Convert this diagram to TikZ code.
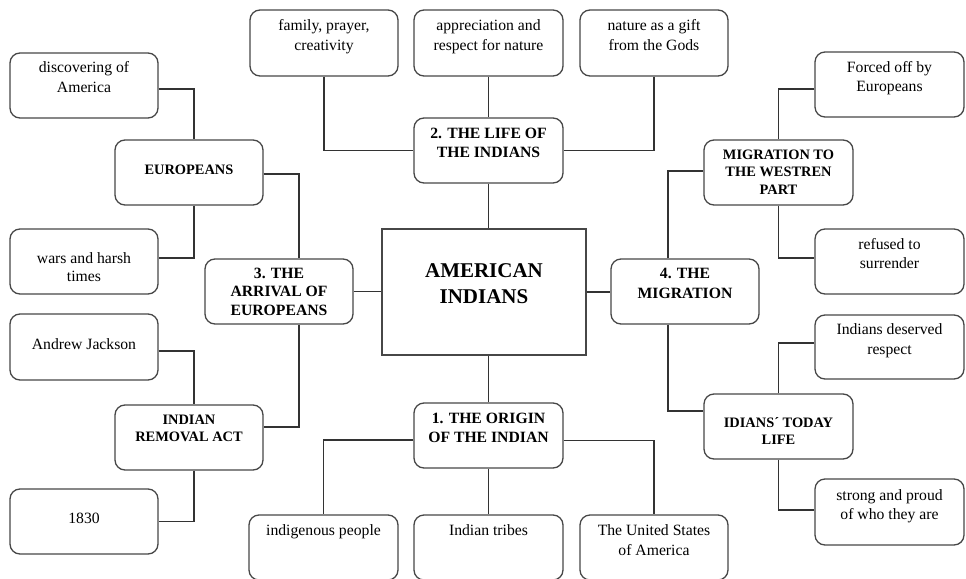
\documentclass[tikz,border=0pt]{standalone}
\usepackage{fontspec}
\setmainfont{Liberation Serif}
\usetikzlibrary{calc}
\newcommand\bxt[4]{\parbox[c][#1][t]{#2}{\centering\rule{0pt}{#3}#4\par}}
\tikzset{
  box/.style={draw=black!72, line width=1.3pt, rounded corners=10pt, inner sep=0pt, fill=white},
  cbox/.style={draw=black!72, line width=1.3pt, inner sep=0pt, fill=white},
  reg/.style={font=\fontsize{15.7}{20}\selectfont},
  subb/.style={font=\fontsize{14.4}{17.5}\selectfont\bfseries},
  mainb/.style={font=\fontsize{15.7}{19.5}\selectfont\bfseries},
  centf/.style={font=\fontsize{21}{26}\selectfont\bfseries},
  conn/.style={draw=black!80, line width=1.2pt}
}
\begin{document}
\begin{tikzpicture}[x=1pt,y=-1pt]
\useasboundingbox (0,0) rectangle (966,578);
\clip (0,0) rectangle (966,578);
\fill[white] (0,0) rectangle (966,578);

% top row
\node[box,reg] (fam) at (324,43) {\bxt{66pt}{148pt}{21pt}{family, prayer,\\creativity}};
\node[box,reg] (appr) at (488.5,43) {\bxt{66pt}{149pt}{21pt}{appreciation and\\respect for nature}};
\node[box,reg] (nat) at (654,43) {\bxt{66pt}{148pt}{21pt}{nature as a gift\\from the Gods}};

% left column
\node[box,reg] (disc) at (84,85.5) {\bxt{65pt}{148pt}{20pt}{discovering of\\America}};
\node[box,reg] (wars) at (84,261.5) {\bxt{65pt}{148pt}{34pt}{\fontsize{15.7}{18}\selectfont wars and harsh\\times}};
\node[box,reg] (andrew) at (84,347) {\bxt{66pt}{148pt}{35pt}{Andrew Jackson}};
\node[box,reg] (y1830) at (84,521.5) {\bxt{65pt}{148pt}{34pt}{1830}};

\node[box,subb] (euro) at (189,172.5) {\bxt{65pt}{148pt}{34pt}{EUROPEANS}};
\node[box,subb] (ira) at (189,437.5) {\bxt{65pt}{148pt}{19pt}{INDIAN\\REMOVAL ACT}};

\node[box,mainb] (arr) at (279,291.5) {\bxt{65pt}{148pt}{19pt}{\fontsize{15.7}{18.5}\selectfont 3. THE\\ARRIVAL OF\\EUROPEANS}};

% centre column
\node[box,mainb] (life) at (488.5,150.5) {\bxt{65pt}{149pt}{20pt}{2. THE LIFE OF\\THE INDIANS}};
\node[cbox,centf] (cent) at (484,292) {\bxt{126pt}{204pt}{48pt}{AMERICAN\\INDIANS}};
\node[box,mainb] (origin) at (488.5,435.5) {\bxt{65pt}{149pt}{20pt}{1. THE ORIGIN\\OF THE INDIAN}};

% bottom row
\node[box,reg] (indig) at (323.5,547.5) {\bxt{65pt}{149pt}{20pt}{indigenous people}};
\node[box,reg] (tribes) at (488.5,547.5) {\bxt{65pt}{149pt}{20pt}{Indian tribes}};
\node[box,reg] (usa) at (654,547.5) {\bxt{65pt}{148pt}{20pt}{The United States\\of America}};

% right side
\node[box,mainb] (mig) at (685,291.5) {\bxt{65pt}{148pt}{19pt}{\fontsize{15.7}{20}\selectfont 4. THE\\MIGRATION}};
\node[box,subb] (migw) at (778.5,172.5) {\bxt{65pt}{149pt}{19pt}{MIGRATION TO\\THE WESTREN\\PART}};
\node[box,subb] (today) at (778.5,426.5) {\bxt{65pt}{149pt}{33pt}{\fontsize{14.4}{17}\selectfont IDIANS´ TODAY\\LIFE}};

\node[box,reg] (forced) at (889.5,84.5) {\bxt{65pt}{149pt}{20pt}{Forced off by\\Europeans}};
\node[box,reg] (refused) at (889.5,261.5) {\bxt{65pt}{149pt}{20pt}{\fontsize{15.7}{19}\selectfont refused to\\surrender}};
\node[box,reg] (deserved) at (889.5,347) {\bxt{64pt}{149pt}{19pt}{Indians deserved\\respect}};
\node[box,reg] (strong) at (889.5,512) {\bxt{66pt}{149pt}{21pt}{\fontsize{15.7}{19}\selectfont strong and proud\\of who they are}};

% connectors
\draw[conn] (appr.south) -- (life.north);
\draw[conn] (fam.south) |- (life.west);
\draw[conn] (nat.south) |- (life.east);
\draw[conn] (life.south) -- (life.south |- cent.north);
\draw[conn] (origin.north) -- (origin.north |- cent.south);
\draw[conn] (origin.south) -- (tribes.north);
\draw[conn] ($(origin.west)+(0,4.5)$) -| (indig.north);
\draw[conn] ($(origin.east)+(0,5)$) -| (usa.north);

\draw[conn] ($(disc.east)+(0,3.5)$) -| ($(euro.north)+(5,0)$);
\draw[conn] ($(euro.south)+(5,0)$) |- ($(wars.east)+(0,-3.5)$);
\draw[conn] ($(euro.east)+(0,1.5)$) -| ($(arr.north)+(20,0)$);
\draw[conn] (arr.east) -- (arr.east -| cent.west);
\draw[conn] ($(andrew.east)+(0,4)$) -| ($(ira.north)+(5,0)$);
\draw[conn] ($(arr.south)+(20,0)$) |- ($(ira.east)+(0,-10.5)$);
\draw[conn] ($(ira.south)+(5,0)$) |- (y1830.east);

\draw[conn] (cent.east) -- (cent.east -| mig.west);
\draw[conn] ($(mig.north)+(-17,0)$) |- ($(migw.west)+(0,-1.5)$);
\draw[conn] ($(forced.west)+(0,4.5)$) -| (migw.north);
\draw[conn] (migw.south) |- ($(refused.west)+(0,-3.5)$);
\draw[conn] ($(mig.south)+(-17,0)$) |- ($(today.west)+(0,-15.5)$);
\draw[conn] (today.north) |- ($(deserved.west)+(0,-4)$);
\draw[conn] (today.south) |- ($(strong.west)+(0,-2)$);
\end{tikzpicture}
\end{document}
